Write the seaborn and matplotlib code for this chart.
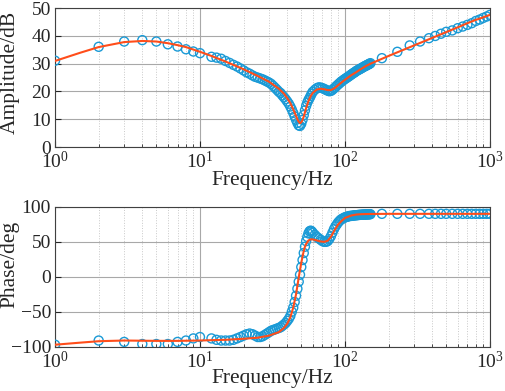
import matplotlib
matplotlib.use("Agg")
import matplotlib.pyplot as plt
import seaborn as sns
import pandas as pd
from matplotlib.ticker import LogLocator, NullFormatter

# measured points (circles)
meas_freq = [1, 2, 3, 4, 5, 6, 7, 8, 9, 10,
             12, 13, 14, 15, 16, 17, 18, 19, 20, 21, 22, 23, 24, 25, 26, 27, 28, 29, 30,
             31, 32, 33, 34, 35, 36, 37, 38, 39, 40, 41, 42, 43, 44, 45, 46, 47, 48, 49, 50,
             51, 52, 53, 54, 55, 56, 57, 58, 59, 60,
             62, 64, 66, 68, 70, 72, 74, 76, 78, 80, 82, 84, 86, 88, 90, 92, 94, 96, 98, 100,
             102, 104, 106, 108, 110, 112, 114, 116, 118, 120, 122, 124, 126, 128, 130,
             132, 134, 136, 138, 140, 142, 144, 146, 148, 150,
             180, 230, 280, 330, 380, 420, 460, 500, 550, 600, 650, 700, 750, 800, 850, 900, 950, 1000]
meas_amp = [31.1, 36.1, 38.0, 38.5, 38.0, 37.0, 36.2, 35.2, 34.4, 33.8,
            32.5, 32.2, 31.8, 31.0, 30.3, 29.6, 29.0, 28.3, 27.6, 26.9, 26.4, 25.8, 25.3, 25.0, 24.7, 24.4, 24.0, 23.6, 23.2,
            22.7, 22.0, 21.3, 20.6, 19.9, 19.4, 18.6, 17.9, 17.2, 16.4, 15.6, 14.6, 13.5, 12.3, 11.0, 9.8, 8.7, 7.8, 7.6, 8.4,
            9.8, 11.5, 13.2, 14.8, 16.0, 16.9, 17.6, 18.4, 19.2, 19.9,
            20.6, 21.2, 21.5, 21.4, 21.2, 20.9, 20.6, 20.3, 20.1, 20.2, 20.6, 21.1, 21.6, 22.1, 22.6, 23.0, 23.5, 23.8, 24.2, 24.5,
            24.8, 25.1, 25.4, 25.7, 26.0, 26.3, 26.6, 26.8, 27.1, 27.4, 27.6, 27.8, 28.0, 28.2, 28.4,
            28.6, 28.8, 29.0, 29.2, 29.3, 29.5, 29.7, 29.8, 30.0, 30.2,
            32.0, 34.3, 36.6, 38.0, 39.2, 40.0, 40.8, 41.5, 42.0, 42.8, 43.4, 44.0, 44.6, 45.4, 45.9, 46.5, 47.0, 47.6]
meas_phase = [-97, -91, -93, -96, -96, -96, -93, -91, -88, -86,
              -88, -90, -91, -91, -91, -90, -88, -86, -84, -82, -81, -82, -84, -86, -86, -85, -83, -81, -79,
              -77, -76, -75, -74, -73, -72, -70, -68, -66, -63, -60, -56, -50, -44, -36, -27, -17, -7, 3, 14,
              24, 34, 43, 51, 57, 62, 65, 66, 65, 63,
              60, 57, 55, 53, 51, 50, 50, 51, 54, 58, 63, 68, 72, 75, 78, 80, 82, 83, 84, 85,
              85.5, 86, 86.5, 87, 87, 87.3, 87.5, 87.7, 88, 88, 88.2, 88.4, 88.5, 88.6, 88.7,
              88.8, 88.9, 89, 89, 89.1, 89.2, 89.2, 89.3, 89.4, 89.5,
              90, 90, 90, 90, 90, 90, 90, 90, 90, 90, 90, 90, 90, 90, 90, 90, 90, 90]

# fitted model (line)
fit_freq = [1, 1.5, 2, 3, 4, 5, 6, 7, 8, 10, 12, 15, 20, 25, 30, 35, 38, 40, 42, 44, 46, 47, 48, 49,
            50, 51, 52, 53, 54, 56, 58, 60, 64, 68, 72, 76, 80, 85, 90, 95, 100, 110, 120, 130, 140, 150,
            200, 300, 400, 500, 600, 700, 800, 900, 1000]
fit_amp = [31.0, 34.0, 36.0, 37.8, 38.2, 38.0, 37.4, 36.7, 36.0, 34.3, 32.8, 30.8, 28.0, 25.6, 23.5, 21.0, 19.2, 17.6, 15.8, 13.6, 11.2, 10.0, 9.1, 8.6,
           8.9, 9.7, 11.0, 12.5, 14.0, 16.5, 18.3, 19.5, 20.7, 21.0, 20.8, 20.5, 20.5, 21.2, 22.3, 23.3, 24.2, 25.8, 27.0, 28.2, 29.2, 30.0,
           32.8, 36.6, 39.3, 41.4, 43.1, 44.6, 45.8, 46.7, 47.6]
fit_phase = [-97, -94, -92, -91, -91.3, -91.5, -91.5, -91.5, -91.3, -91, -90.5, -90, -88.5, -87, -84, -79, -73, -67, -58, -44, -25, -13, -1, 10,
             20, 29, 37, 43, 47, 52, 53.5, 53.5, 52, 50.5, 50, 51.5, 57, 67, 75, 80, 84, 87.5, 89, 89.5, 89.7, 89.8,
             90, 90, 90, 90, 90, 90, 90, 90, 90]

meas = pd.DataFrame({"f": meas_freq, "amp": meas_amp, "phase": meas_phase})
fit = pd.DataFrame({"f": fit_freq, "amp": fit_amp, "phase": fit_phase})

sns.set_style("white")
plt.rcParams["font.family"] = ["Liberation Serif", "DejaVu Serif"]
plt.rcParams["mathtext.fontset"] = "custom"
plt.rcParams["mathtext.rm"] = "Liberation Serif"
plt.rcParams["mathtext.it"] = "Liberation Serif:italic"
plt.rcParams["font.size"] = 14

blue = "#1a9ad6"
red = "#ff4d1a"

fig = plt.figure(figsize=(5.05, 3.91), dpi=100)
ax1 = fig.add_axes([0.109, 0.624, 0.861, 0.355])
ax2 = fig.add_axes([0.109, 0.113, 0.861, 0.358])

for ax, col, ylab, lims, ticks, ly, xpad in [
        (ax1, "amp", "Amplitude/dB", (0, 50), [0, 10, 20, 30, 40, 50], 0.54, -1),
        (ax2, "phase", "Phase/deg", (-100, 100), [-100, -50, 0, 50, 100], 0.59, -2.5)]:
    sns.scatterplot(data=meas, x="f", y=col, ax=ax, marker="o", s=42,
                    facecolors="none", edgecolors=blue, linewidth=1.0, zorder=3)
    sns.lineplot(data=fit, x="f", y=col, ax=ax, color=red, linewidth=1.5,
                 sort=False, estimator=None, zorder=4)
    ax.set_xscale("log")
    ax.set_xlim(1, 1000)
    ax.set_ylim(*lims)
    ax.set_yticks(ticks)
    ax.xaxis.set_major_locator(LogLocator(base=10, numticks=10))
    ax.xaxis.set_minor_locator(LogLocator(base=10, subs=range(2, 10), numticks=20))
    ax.xaxis.set_minor_formatter(NullFormatter())
    ax.grid(which="major", color="#a8a8a8", linewidth=0.8, linestyle="-")
    ax.grid(which="minor", axis="x", color="#c8c8c8", linewidth=0.7, linestyle=":")
    ax.set_axisbelow(True)
    ax.tick_params(which="both", direction="in", bottom=True, left=True, top=False, right=False,
                   labelsize=14)
    ax.tick_params(which="major", length=4, width=0.8, pad=3)
    ax.tick_params(which="minor", length=2.5, width=0.6)
    for sp in ax.spines.values():
        sp.set_color("#404040")
        sp.set_linewidth(0.8)
    ax.set_xlabel("Frequency/Hz", fontsize=15.5, labelpad=xpad)
    ax.set_ylabel(ylab, fontsize=15.5)
    ax.yaxis.set_label_coords(-0.082, ly)

fig.savefig("out.png", dpi=100)
